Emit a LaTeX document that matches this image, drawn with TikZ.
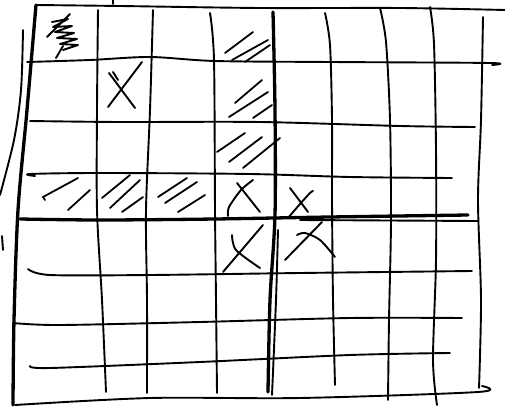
\documentclass[tikz,border=0pt]{standalone}
\begin{document}
\begin{tikzpicture}[x=1pt,y=-1pt,
  pen/.style={line width=1.9pt,line cap=round,line join=round,black},
  heavy/.style={line width=3.3pt,line cap=round,line join=round,black},
  hatch/.style={line width=1.8pt,line cap=round,black}]
\useasboundingbox (0,0) rectangle (505,409);
% outer frame
\draw[pen] plot[smooth] coordinates {(36,5) (120,6) (260,8) (400,8) (505,10)};
\draw[heavy] plot[smooth] coordinates {(36,5) (27,110) (18,210) (14,320) (13,405)};
\draw[pen] plot[smooth] coordinates {(15,405) (150,398) (300,398) (478,392) (482,386)};
\draw[pen] plot[smooth] coordinates {(483,17) (481,120) (478,200) (481,300) (479,388)};
\draw[pen] plot[smooth] coordinates {(23,30) (21,90) (14,140) (0,195)};
\draw[pen] (2,236) -- (3,250);
\draw[pen] (113,0) -- (113,4);
% horizontal lines
\draw[pen] plot[smooth] coordinates {(27,62) (90,60) (150,57) (215,61) (330,62) (490,63) (492,65)};
\draw[pen] plot[smooth] coordinates {(30,121) (120,122) (260,122) (400,126) (475,127)};
\draw[pen] plot[smooth] coordinates {(35,176) (30,174) (100,173) (250,174) (350,177) (452,178)};
\draw[heavy] plot[smooth] coordinates {(20,219) (100,220) (215,219) (330,217) (468,215)};
\draw[pen] (300,220) -- (478,221);
\draw[pen] plot[smooth] coordinates {(28,269) (50,275) (150,275) (300,273) (472,271)};
\draw[pen] plot[smooth] coordinates {(13,323) (60,325) (200,322) (350,318) (462,318)};
\draw[pen] plot[smooth] coordinates {(30,366) (50,368) (200,362) (350,355) (450,353)};
% vertical lines
\draw[pen] plot[smooth] coordinates {(98,10) (97,110) (97,210) (102,300) (106,392)};
\draw[pen] plot[smooth] coordinates {(153,10) (150,110) (146,210) (147,300) (147,393)};
\draw[pen] plot[smooth] coordinates {(210,13) (214,60) (215,210) (216,300) (217,393)};
\draw[heavy] plot[smooth] coordinates {(273,12) (275,110) (275,215) (270,300) (268,392)};
\draw[pen] plot[smooth] coordinates {(278,230) (276,300) (272,395)};
\draw[pen] plot[smooth] coordinates {(325,13) (330,45) (332,120) (332,200) (333,300) (335,385)};
\draw[pen] plot[smooth] coordinates {(380,8) (386,42) (390,120) (391,220) (389,320) (388,400)};
\draw[pen] plot[smooth] coordinates {(430,7) (434,44) (436,150) (436,260) (433,360) (437,405)};
% top-left scribble
\draw[pen] (47,37) -- (70,14);
\draw[pen] (52,22) -- (68,19) -- (53,27) -- (72,26) -- (55,32) -- (74,33) -- (57,38) -- (77,39) -- (60,44) -- (78,45) -- (63,50);
\draw[pen] (56,58) -- (63,46);
% hatched cells
\draw[hatch] (225,53) -- (253,32);
\draw[hatch] (232,60) -- (268,40);
\draw[hatch] (245,62) -- (270,45);
\draw[hatch] (235,103) -- (262,80);
\draw[hatch] (229,117) -- (268,92);
\draw[hatch] (253,118) -- (272,105);
\draw[hatch] (217,152) -- (245,133);
\draw[hatch] (229,162) -- (262,137);
\draw[hatch] (243,168) -- (280,138);
\draw[hatch] (45,200) -- (43,197) -- (78,178);
\draw[hatch] (68,210) -- (90,190);
\draw[hatch] (102,198) -- (130,175);
\draw[hatch] (110,208) -- (140,180);
\draw[hatch] (122,212) -- (143,197);
\draw[hatch] (158,197) -- (187,178);
\draw[hatch] (165,203) -- (197,182);
\draw[hatch] (178,212) -- (205,195);
% X marks
\draw[pen] (109,73) -- (135,108);
\draw[pen] (113,72) -- (118,80);
\draw[pen] (142,62) -- (108,107);
\draw[pen] (237,183) -- (260,212);
\draw[pen] plot[smooth] coordinates {(253,180) (241,190) (229,207) (228,216)};
\draw[pen] (290,188) -- (308,212);
\draw[pen] plot[smooth] coordinates {(313,191) (310,193) (300,204) (288,218)};
\draw[pen] plot[smooth] coordinates {(232,235) (236,250) (260,268)};
\draw[pen] (263,225) -- (223,272);
\draw[pen] plot[smooth] coordinates {(297,235) (305,233) (320,240) (335,257)};
\draw[pen] (322,222) -- (285,260);
\end{tikzpicture}
\end{document}
